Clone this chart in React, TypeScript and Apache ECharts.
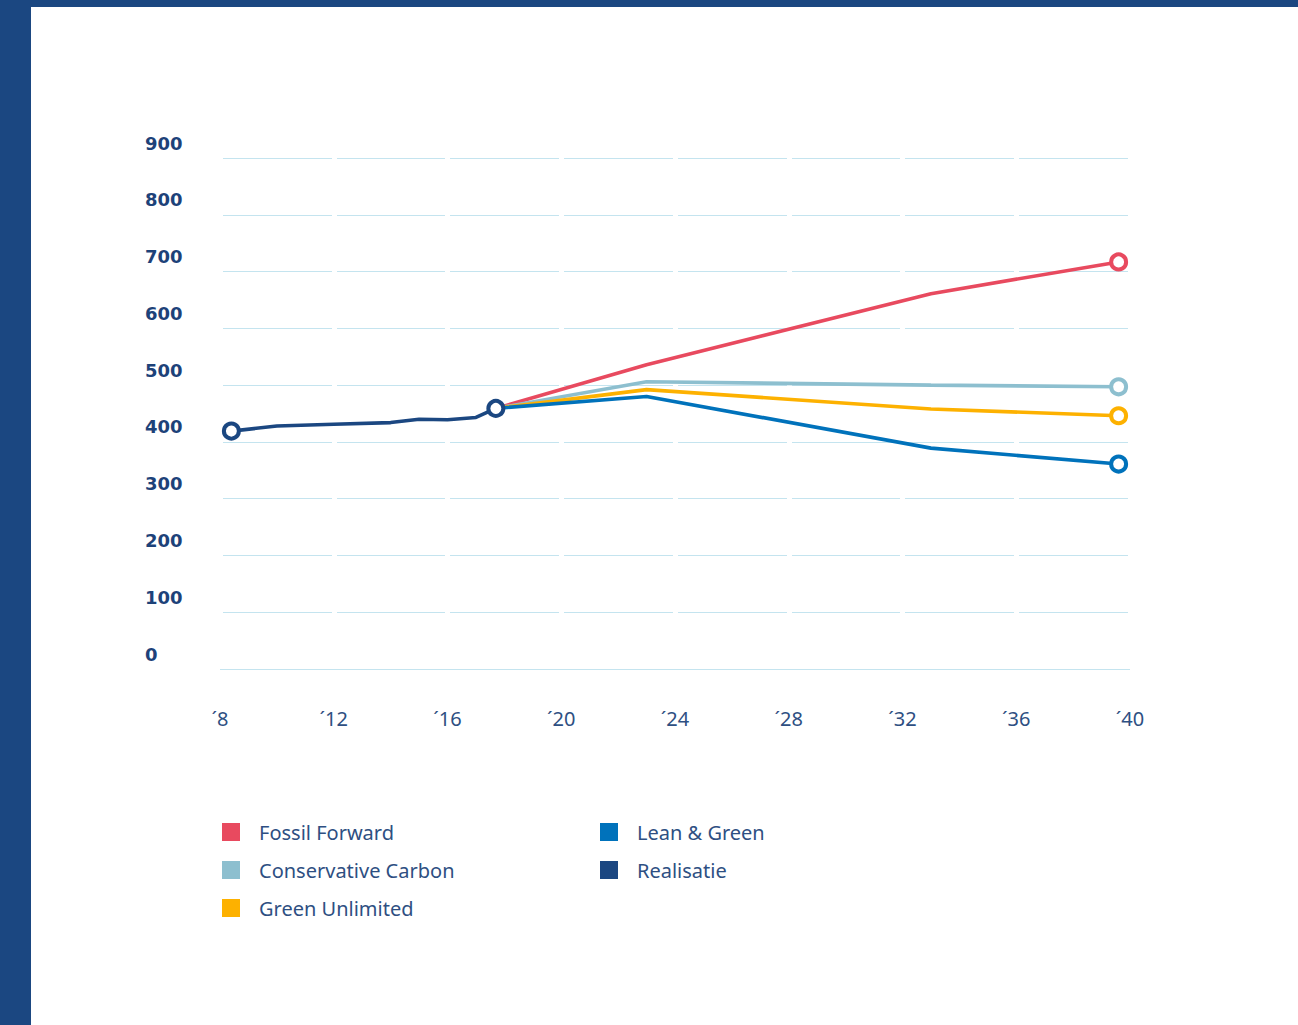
import React, { useEffect, useRef } from "react";
import * as echarts from "echarts";

// Tick labels
const xTickYears = [2008, 2012, 2016, 2020, 2024, 2028, 2032, 2036, 2040];
const yTicks = [0, 100, 200, 300, 400, 500, 600, 700, 800, 900];

// Series values: [year, value]
const realisatie: [number, number][] = [
  [2008.4, 419], [2010, 428], [2012, 431], [2014, 434], [2015, 440], [2016, 439], [2017, 443], [2017.7, 459],
];
const fossilForward: [number, number][] = [
  [2017.7, 459], [2023, 536], [2033, 661], [2039.6, 717],
];
const conservativeCarbon: [number, number][] = [
  [2017.7, 459], [2023, 506], [2033, 500], [2039.6, 497],
];
const greenUnlimited: [number, number][] = [
  [2017.7, 459], [2023, 492], [2033, 458], [2039.6, 446],
];
const leanGreen: [number, number][] = [
  [2017.7, 459], [2023, 480], [2033, 389], [2039.6, 361],
];

const names = ["Fossil Forward", "Conservative Carbon", "Green Unlimited", "Lean & Green", "Realisatie"];
const colors = ["#e84a5f", "#8dbfcf", "#fdb100", "#0072bb", "#1b4781"];

const NAVY = "#1b4781";
const TEXT = "#2e4f82";

function toData(points: [number, number][], markFirst: boolean) {
  return points.map((p, i) => {
    const show = i === points.length - 1 || (markFirst && i === 0);
    return show ? { value: p } : { value: p, symbol: "none" };
  });
}

export default function App() {
  const ref = useRef<HTMLDivElement>(null);

  useEffect(() => {
    if (!ref.current) return;
    const chart = echarts.init(ref.current, undefined, { renderer: "svg" });
    const seriesPoints = [fossilForward, conservativeCarbon, greenUnlimited, leanGreen, realisatie];
    const series = seriesPoints.map((pts, i) => ({
      name: names[i],
      type: "line",
      data: toData(pts, i === 4),
      symbol: "circle",
      symbolSize: 15,
      z: 2 + i,
      lineStyle: { color: colors[i], width: 3.6 },
      itemStyle: { color: "#ffffff", borderColor: colors[i], borderWidth: 4 },
      emphasis: { disabled: true },
    }));

    const legendItems = names.map((n, i) => ({
      name: n,
      itemStyle: { color: colors[i], borderWidth: 0 },
    }));

    const legendBase = {
      orient: "vertical",
      icon: "rect",
      itemWidth: 18,
      itemHeight: 18,
      itemGap: 18,
      top: 822,
      padding: 0,
      selectedMode: false,
      textStyle: {
        color: TEXT,
        fontSize: 20,
        fontFamily: "Noto Sans",
        lineHeight: 18,
        padding: [0, 0, 0, 14],
      },
    };

    chart.setOption({
      animation: false,
      backgroundColor: "#ffffff",
      grid: { left: 220, right: 168, top: 158, bottom: 356, containLabel: false },
      graphic: [
        { type: "rect", left: 0, top: 0, shape: { x: 0, y: 0, width: 31, height: 1025 }, style: { fill: NAVY }, z: 10 },
        { type: "rect", left: 0, top: 0, shape: { x: 0, y: 0, width: 1298, height: 7 }, style: { fill: NAVY }, z: 10 },
      ],
      legend: [
        { ...legendBase, left: 222, data: legendItems.slice(0, 3) },
        { ...legendBase, left: 600, data: legendItems.slice(3) },
      ],
      xAxis: {
        type: "value",
        min: xTickYears[0],
        max: xTickYears[xTickYears.length - 1],
        interval: 4,
        z: 1,
        axisLine: { show: false },
        axisTick: { show: false },
        splitLine: { show: true, lineStyle: { color: "#ffffff", width: 5 } },
        axisLabel: {
          margin: 39,
          color: TEXT,
          fontSize: 20,
          fontFamily: "Noto Sans",
          formatter: (v: number) => "´" + (v % 100),
        },
      },
      yAxis: {
        type: "value",
        min: yTicks[0],
        max: yTicks[yTicks.length - 1],
        interval: 100,
        z: 0,
        axisLine: { show: false },
        axisTick: { show: false },
        splitLine: { show: true, lineStyle: { color: "#c4e4ef", width: 1.2 } },
        axisLabel: {
          align: "left",
          verticalAlign: "bottom",
          lineHeight: 30,
          margin: 75,
          color: "#1d4279",
          fontSize: 18,
          fontWeight: "bold",
          fontFamily: "DejaVu Sans",
        },
      },
      series,
    });
    return () => chart.dispose();
  }, []);

  return (
    <div
      ref={ref}
      style={{ position: "fixed", left: 0, top: 0, width: 1298, height: 1025 }}
    />
  );
}
